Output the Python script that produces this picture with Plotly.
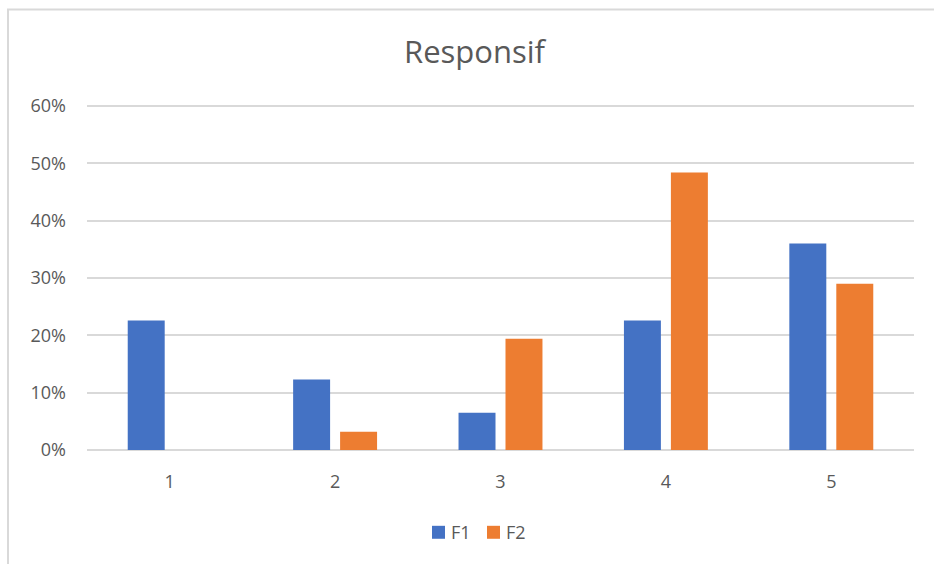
import plotly.graph_objects as go

# Survey response shares per score, two groups
categories = ["1", "2", "3", "4", "5"]
f1_values = [0.226, 0.123, 0.065, 0.226, 0.360]
f2_values = [0.0, 0.032, 0.194, 0.484, 0.290]
y_ticks = [0, 0.1, 0.2, 0.3, 0.4, 0.5, 0.6]
y_tick_labels = ["0%", "10%", "20%", "30%", "40%", "50%", "60%"]
series_names = ["F1", "F2"]

BLUE = "#4472C4"
ORANGE = "#ED7D31"
GRID = "#D9D9D9"
TEXT = "#595959"
FONT = "Open Sans"

W, H = 934, 564
Y_MAX = 0.605                      # a little headroom so the 60% gridline is drawn
ZERO_PX = 450.5                    # pixel row of the 0% baseline
PX_PER_UNIT = 575.0
L, R, B = 87, 20, H - ZERO_PX
T = ZERO_PX - Y_MAX * PX_PER_UNIT
PW, PH = W - L - R, H - T - B


def px_x(px):
    return (px - L) / PW


def px_y(py):
    return (H - B - py) / PH


fig = go.Figure()
for name, vals, col in zip(series_names, [f1_values, f2_values], [BLUE, ORANGE]):
    fig.add_trace(go.Bar(name=name, x=categories, y=vals,
                         marker=dict(color=col, line=dict(width=0))))

fig.update_layout(
    width=W, height=H,
    margin=dict(l=L, r=R, t=T, b=B),
    paper_bgcolor="white", plot_bgcolor="white",
    barmode="group", bargap=0.432, bargroupgap=0.213,
    font=dict(family=FONT, color=TEXT, size=18),
    title=dict(text="Responsif", x=474.5 / W, xanchor="center",
               y=1 - 52 / H, yanchor="middle",
               font=dict(family=FONT, size=31, color=TEXT)),
    showlegend=False,
)

fig.update_xaxes(showgrid=False, showline=False, zeroline=False,
                 ticks="", ticklabelstandoff=19,
                 tickfont=dict(family=FONT, size=18, color=TEXT))
fig.update_yaxes(range=[0, Y_MAX], tickvals=y_ticks, ticktext=y_tick_labels,
                 showgrid=True, gridcolor=GRID, gridwidth=1.5,
                 zeroline=True, zerolinecolor=GRID, zerolinewidth=1.5,
                 showline=False, ticks="", ticklabelstandoff=20,
                 tickfont=dict(family=FONT, size=18, color=TEXT))

# Outer chart frame (left and top edges visible)
fig.add_shape(type="rect", xref="paper", yref="paper",
              x0=px_x(8), x1=px_x(970), y0=px_y(600), y1=px_y(9),
              line=dict(color=GRID, width=2), fillcolor="rgba(0,0,0,0)",
              layer="below")

# Legend: colour swatch followed by series name
legend_swatch_x = [432, 487]
for name, col, sx in zip(series_names, [BLUE, ORANGE], legend_swatch_x):
    fig.add_shape(type="rect", xref="paper", yref="paper",
                  x0=px_x(sx), x1=px_x(sx + 13),
                  y0=px_y(539.5), y1=px_y(526.5),
                  line=dict(width=0), fillcolor=col)
    fig.add_annotation(text=name, xref="paper", yref="paper",
                       x=px_x(sx + 17), y=px_y(533),
                       xanchor="left", yanchor="middle", showarrow=False,
                       font=dict(family=FONT, size=18, color=TEXT))

fig.write_html("out.html")
